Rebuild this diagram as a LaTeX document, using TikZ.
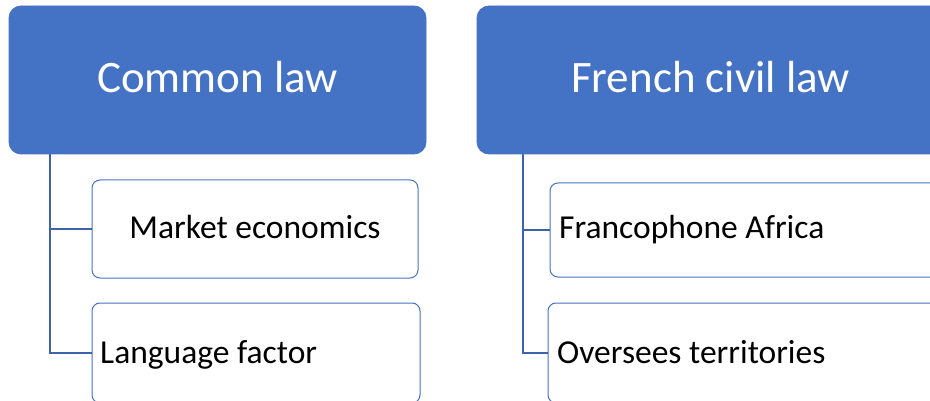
\documentclass[tikz,border=0pt]{standalone}
\usepackage{fontspec}
\setmainfont{Carlito}
\definecolor{hdrblue}{HTML}{4472C4}
\definecolor{linkblue}{HTML}{3B64AD}
\begin{document}
\begin{tikzpicture}[x=1pt,y=-1pt,
  hdr/.style={draw=hdrblue,fill=hdrblue,rounded corners=12pt,line width=0.8pt,
    anchor=north west,inner sep=0pt,outer sep=0pt},
  child/.style={draw=hdrblue,fill=white,rounded corners=8pt,line width=1pt,
    anchor=north west,inner sep=0pt,outer sep=0pt},
  link/.style={draw=linkblue,line width=1.2pt},
  hdrtext/.style={text=white,font=\fontsize{45}{54}\selectfont,inner sep=0pt},
  childtext/.style={text=black,font=\fontsize{33.5}{40}\selectfont,inner sep=0pt}]
\useasboundingbox (0,0) rectangle (930,401);
\clip (0,0) rectangle (930,401);
% boxes
\node[hdr,minimum width=417pt,minimum height=148pt] (cl) at (9,6) {};
\node[hdr,minimum width=473pt,minimum height=148pt] (fr) at (477,6) {};
\node[child,minimum width=326pt,minimum height=98pt] (mk) at (92,180) {};
\node[child,minimum width=328pt,minimum height=100pt] (lg) at (92,303) {};
\node[child,minimum width=400pt,minimum height=94pt] (fa) at (550,183) {};
\node[child,minimum width=402pt,minimum height=100pt] (ov) at (548,303) {};
% connector start points on the header bottoms
\coordinate (clb) at ([xshift=41pt]cl.south west);
\coordinate (frb) at ([xshift=46pt]fr.south west);
% connectors
\draw[link] (clb) |- (mk.west);
\draw[link] (clb) |- (lg.west);
\draw[link] (frb) |- (fa.west);
\draw[link] (frb) |- (ov.west);
% texts
\node[hdrtext,anchor=base] (tcl) at (217.5,93) {Common law};
\node[hdrtext,anchor=base west] (tfr) at (571,93) {French civil law};
\node[childtext,anchor=base] (tmk) at (255,239) {Market economics};
\node[childtext,anchor=base west] (tlg) at (100,363) {Language factor};
\node[childtext,anchor=base west] (tfa) at (559,239) {Francophone Africa};
\node[childtext,anchor=base west] (tov) at (557,363) {Oversees territories};
\end{tikzpicture}
\end{document}
